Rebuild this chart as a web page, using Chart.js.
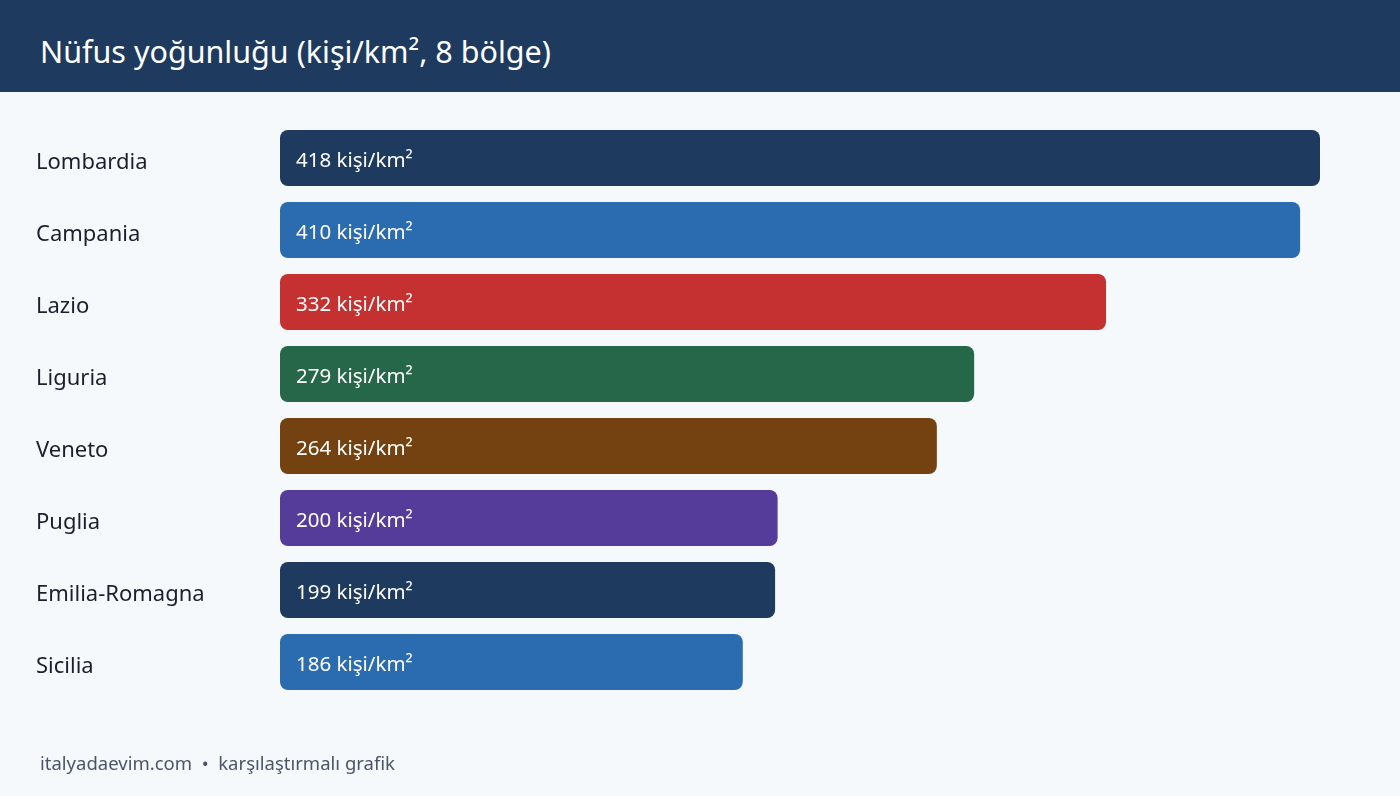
<!DOCTYPE html>
<html>
<head>
<meta charset="utf-8">
<script src="https://cdn.jsdelivr.net/npm/chart.js@4/dist/chart.umd.min.js"></script>
<style>
  html, body { margin: 0; padding: 0; }
  body { width: 1400px; height: 796px; background: #f5f9fc; position: relative; overflow: hidden; font-family: "Noto Sans", sans-serif; }
  #baslik { position: absolute; left: 0; top: 0; width: 1400px; height: 92px; background: #1e3a5f; }
  #baslik span { position: absolute; left: 40px; top: 30px; color: #fff; font-size: 30.5px; line-height: 42px; }
  #grafik { position: absolute; left: 0; top: 0; }
  #altyazi { position: absolute; left: 40px; top: 750px; color: #4a5568; font-size: 18.5px; line-height: 26px; }
</style>
</head>
<body>
<canvas id="grafik" width="1400" height="796"></canvas>
<div id="baslik"><span>Nüfus yoğunluğu (kişi/km², 8 bölge)</span></div>
<div id="altyazi">italyadaevim.com &nbsp;•&nbsp; karşılaştırmalı grafik</div>
<script>
// Bölgeler ve yoğunluk değerleri
const bolgeler = ['Lombardia', 'Campania', 'Lazio', 'Liguria', 'Veneto', 'Puglia', 'Emilia-Romagna', 'Sicilia'];
const yogunluk = [418, 410, 332, 279, 264, 200, 199, 186];
const renkler = ['#1e3a5f', '#2b6cb0', '#c53030', '#276749', '#744210', '#553c9a', '#1e3a5f', '#2b6cb0'];
const birim = 'kişi/km²';

// Bölge adları ve çubuk içi değer yazıları
const etiketler = {
    id: 'etiketler',
    afterDatasetsDraw(chart) {
        const c = chart.ctx;
        const meta = chart.getDatasetMeta(0);
        const yEksen = chart.scales.y;
        c.save();
        c.textAlign = 'left';
        c.textBaseline = 'middle';
        bolgeler.forEach((ad, i) => {
            c.fillStyle = '#1a202c';
            c.font = '22px "Noto Sans", sans-serif';
            c.fillText(ad, yEksen.left, yEksen.getPixelForValue(i) + 5);
        });
        meta.data.forEach((bar, i) => {
            c.fillStyle = '#ffffff';
            c.font = '20.5px "Noto Sans", sans-serif';
            c.fillText(yogunluk[i] + ' ' + birim, bar.base + 16, bar.y + 3);
        });
        c.restore();
    }
};

const ctx = document.getElementById('grafik').getContext('2d');
new Chart(ctx, {
    type: 'bar',
    data: {
        labels: bolgeler,
        datasets: [{
            data: yogunluk,
            backgroundColor: renkler,
            borderRadius: 8,
            borderSkipped: false,
            barPercentage: 56 / 72,
            categoryPercentage: 1
        }]
    },
    options: {
        indexAxis: 'y',
        responsive: false,
        animation: false,
        layout: { padding: { left: 36, right: 80, top: 122, bottom: 98 } },
        plugins: {
            legend: { display: false },
            tooltip: { enabled: false }
        },
        scales: {
            x: { display: false, min: 0, max: 418 },
            y: {
                grid: { display: false },
                border: { display: false },
                afterFit(scale) { scale.width = 244; },
                ticks: { display: false }
            }
        }
    },
    plugins: [etiketler]
});
</script>
</body>
</html>
